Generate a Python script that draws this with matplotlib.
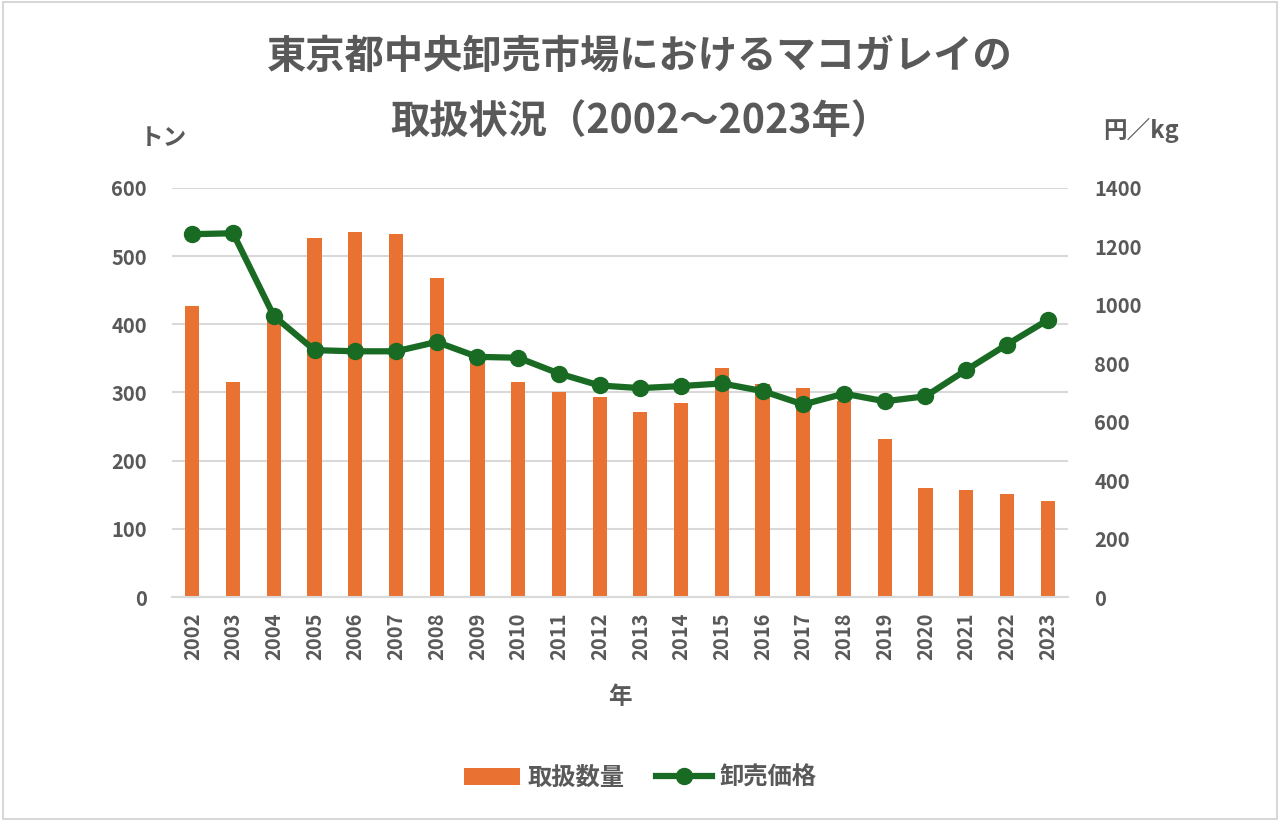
import numpy as np
import matplotlib.pyplot as plt
from matplotlib.patches import Rectangle

plt.rcParams['font.family'] = ['Noto Sans CJK JP', 'DejaVu Sans']

# ============================
#  CORES
# ============================
LARANJA = "#E97132"
VERDE = "#196B24"
CINZA = "#595959"
GRADE = "#D9D9D9"

# ============================
#  DADOS
# ============================
anos = [str(a) for a in range(2002, 2024)]
quantidade = [427, 315, 405, 526, 536, 532, 468, 350, 316, 300, 294,
              272, 284, 336, 312, 307, 287, 232, 160, 157, 151, 141]
preco = [1242, 1245, 962, 845, 841, 841, 873, 822, 819, 765, 724,
         715, 722, 731, 705, 659, 696, 670, 687, 777, 864, 948]

titulo1 = "東京都中央卸売市場におけるマコガレイの"
titulo2 = "取扱状況（2002～2023年）"

# ============================
#  FIGURA
# ============================
fig = plt.figure(figsize=(12.8, 8.21), dpi=100)
fig.patches.append(Rectangle((0.002, 0.002), 0.996, 0.996, transform=fig.transFigure,
                             fill=False, edgecolor="#D0D0D0", linewidth=1.2))

ax = fig.add_axes([172/1280, 1 - 597/821, (1068-172)/1280, (597-188)/821])
ax2 = ax.twinx()

x = np.arange(len(anos))
b = ax.bar(x, quantidade, width=0.35, color=LARANJA, label="取扱数量", zorder=2)
l, = ax2.plot(x, preco, color=VERDE, linewidth=4.5, marker="o", markersize=11.5,
              label="卸売価格", zorder=3)

ax.set_xlim(-0.5, len(anos) - 0.5)
ax.set_ylim(0, 600)
ax2.set_ylim(0, 1400)
ax.set_yticks(range(0, 601, 100))
ax2.set_yticks(range(0, 1401, 200))
ax.set_xticks(x)
ax.set_xticklabels(anos, rotation=90)

ax.grid(axis="y", color=GRADE, linewidth=1.5, zorder=0)
ax.set_axisbelow(True)
for a in (ax, ax2):
    for s in a.spines.values():
        s.set_visible(False)
    a.tick_params(length=0, labelsize=14.5, labelcolor=CINZA)
    for t in a.get_xticklabels() + a.get_yticklabels():
        t.set_fontweight("bold")
ax.spines["bottom"].set_visible(True)
ax.spines["bottom"].set_color(GRADE)
ax.spines["bottom"].set_linewidth(1.5)
ax.tick_params(axis="y", pad=18)
ax2.tick_params(axis="y", pad=19)
ax.tick_params(axis="x", pad=11)

fig.text(0.5, 1 - 56/821, titulo1, ha="center", va="center", fontsize=28.3,
         fontweight="bold", color=CINZA)
fig.text(0.5, 1 - 121/821, titulo2, ha="center", va="center", fontsize=28.3,
         fontweight="bold", color=CINZA)
fig.text(163/1280, 1 - 138/821, "トン", ha="center", va="center", fontsize=17,
         fontweight="bold", color=CINZA)
fig.text(1141/1280, 1 - 130/821, "円／kg", ha="center", va="center", fontsize=17,
         fontweight="bold", color=CINZA)
fig.text(620/1280, 1 - 697/821, "年", ha="center", va="center", fontsize=17,
         fontweight="bold", color=CINZA)

leg = fig.legend([b, l], ["取扱数量", "卸売価格"], loc="center", ncol=2,
                 bbox_to_anchor=(0.5, 1 - 778/821), frameon=False,
                 prop={"size": 17.5, "weight": "bold"}, handlelength=2.3,
                 columnspacing=1.3, handletextpad=0.3)
for t in leg.get_texts():
    t.set_color(CINZA)

fig.savefig("out.png", dpi=100)
